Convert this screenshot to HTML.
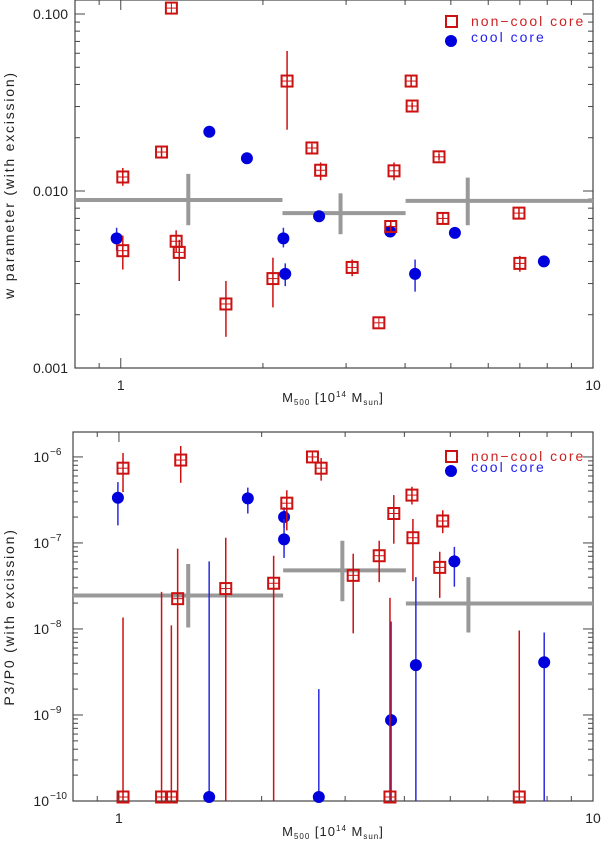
<!DOCTYPE html>
<html><head><meta charset="utf-8">
<style>
html,body{margin:0;padding:0;background:#fff;}
svg{display:block;font-family:"Liberation Sans",sans-serif;}
</style></head>
<body>
<svg id="chart" width="602" height="847" viewBox="0 0 602 847" xmlns="http://www.w3.org/2000/svg"></svg>
<script>
// ---------- TOP PANEL DATA (w parameter) ----------
const topNccX  = [1.01,1.01,1.22,1.28,1.31,1.33,1.67,2.10,2.25,2.54,2.65,3.09,3.52,3.73,3.79,4.12,4.14,4.72,4.81,6.97,7.00];
const topNccY  = [0.0120,0.0046,0.0166,0.108,0.0052,0.0045,0.0023,0.0032,0.0418,0.0175,0.0131,0.0037,0.0018,0.0063,0.0130,0.0418,0.0302,0.0156,0.0070,0.0075,0.0039];
const topNccLo = [0.0107,0.0036,0.0153,0.108,0.0045,0.0031,0.0015,0.0022,0.0222,0.0164,0.0115,0.0033,0.0018,0.0059,0.0115,0.0390,0.0290,0.0150,0.0065,0.0070,0.0035];
const topNccHi = [0.0135,0.0056,0.0180,0.108,0.0060,0.0053,0.0031,0.0042,0.0618,0.0184,0.0145,0.0041,0.0018,0.0067,0.0145,0.0450,0.0315,0.0162,0.0075,0.0080,0.0043];
const topCcX   = [0.98,1.54,1.85,2.21,2.23,2.63,3.72,4.20,5.10,7.87];
const topCcY   = [0.0054,0.0216,0.0153,0.0054,0.0034,0.0072,0.0059,0.0034,0.0058,0.0040];
const topCcLo  = [0.0046,0.0216,0.0153,0.0048,0.0029,0.0072,0.0059,0.0027,0.0058,0.0040];
const topCcHi  = [0.0062,0.0216,0.0153,0.0062,0.0039,0.0072,0.0059,0.0041,0.0058,0.0040];
const topBinEdges = [0.8,2.20,4.01,10];
const topBinX  = [1.39,2.92,5.43];
const topBinY  = [0.0089,0.0075,0.0088];
const topBinLo = [0.0064,0.0057,0.0064];
const topBinHi = [0.0125,0.0097,0.0119];
const topYTicks = [0.001,0.01,0.1];
const topYTickLabels = ["0.001","0.010","0.100"];

// ---------- BOTTOM PANEL DATA (P3/P0) ----------
const botNccX  = [1.02,1.35,1.33,1.68,2.12,2.26,1.02,1.23,1.29,2.56,2.67,4.15,3.80,4.17,4.82,3.54,3.12,4.75,6.99,3.73];
const botNccY  = [7.4e-7,9.2e-7,2.25e-8,2.95e-8,3.4e-8,2.9e-7,1.1e-10,1.1e-10,1.1e-10,1.0e-6,7.4e-7,3.6e-7,2.2e-7,1.15e-7,1.8e-7,7.1e-8,4.2e-8,5.2e-8,1.1e-10,1.1e-10];
const botNccLo = [3.9e-7,5.0e-7,1.0e-10,1.0e-10,1.0e-10,1.4e-7,1.0e-10,1.0e-10,1.0e-10,9.0e-7,5.3e-7,2.8e-7,9.8e-8,3.6e-8,1.3e-7,3.5e-8,8.9e-9,2.3e-8,1.0e-10,1.0e-10];
const botNccHi = [1.11e-6,1.34e-6,8.6e-8,1.15e-7,7.1e-8,4.1e-7,1.36e-8,2.7e-8,1.1e-8,1.1e-6,9.7e-7,4.5e-7,3.6e-7,1.9e-7,2.4e-7,1.06e-7,7.5e-8,7.9e-8,9.6e-9,2.3e-8];
const botCcX   = [0.995,1.87,2.23,2.23,1.55,5.10,4.23,3.75,7.89,2.64];
const botCcY   = [3.35e-7,3.3e-7,2.0e-7,1.1e-7,1.1e-10,6.1e-8,3.8e-9,8.7e-10,4.1e-9,1.1e-10];
const botCcLo  = [1.6e-7,2.2e-7,1.5e-7,6.7e-8,1.0e-10,3.1e-8,1.0e-10,1.0e-10,1.0e-10,1.0e-10];
const botCcHi  = [5.1e-7,4.4e-7,2.6e-7,1.9e-7,6.1e-8,9.0e-8,4.0e-8,1.22e-8,9.1e-9,2.0e-9];
const botBinEdges = [0.8,2.22,4.03,10];
const botBinX  = [1.40,2.96,5.46];
const botBinY  = [2.45e-8,4.8e-8,1.98e-8];
const botBinLo = [1.04e-8,2.1e-8,9.1e-9];
const botBinHi = [5.7e-8,1.06e-7,4.0e-8];
const botYExps = [-10,-9,-8,-7,-6];

const xTickVals = [1,10];
const xTickLabels = ["1","10"];

const NS="http://www.w3.org/2000/svg";
const svg=document.getElementById('chart');
function mk(tag,attrs,parent){const e=document.createElementNS(NS,tag);for(const k in attrs)e.setAttribute(k,attrs[k]);(parent||svg).appendChild(e);return e;}

function panel(cfg){
  const g=mk('g',{});
  
  
  const L=cfg.left,R=593,T=cfg.top,B=cfg.bottom;
  const lx0=Math.log10(0.8),lx1=1;
  const sx=v=>L+(Math.log10(v)-lx0)/(lx1-lx0)*(R-L);
  const ly0=Math.log10(cfg.ymin),ly1=Math.log10(cfg.ymax);
  const sy=v=>B-(Math.log10(v)-ly0)/(ly1-ly0)*(B-T);
  const ax='#444';
  const fr=mk('rect',{x:L,y:T,width:R-L,height:B-T,fill:'none',stroke:ax,'stroke-width':1.2},g);
  
  
  for(let d=0;d<=1;d++){for(let m=1;m<10;m++){const vv=(d===0?m*0.1:m);if(vv<0.8||vv>10)continue;const x=sx(vv);const len=(m===1)?10:5;
    mk('line',{x1:x,y1:B,x2:x,y2:B-len,stroke:ax},g);mk('line',{x1:x,y1:T,x2:x,y2:T+len,stroke:ax},g);}}
  mk('line',{x1:sx(10),y1:B,x2:sx(10),y2:B-10,stroke:ax},g);
  xTickVals.forEach((v,i)=>{const t=mk('text',{x:sx(v),y:B+22,'text-anchor':'middle','font-size':14,fill:'#222'},g);t.textContent=xTickLabels[i];
    
    });
  for(let e=Math.floor(ly0);e<=Math.ceil(ly1);e++){for(let m=1;m<10;m++){const v=m*Math.pow(10,e);if(v<cfg.ymin*0.999||v>cfg.ymax)continue;const y=sy(v);const len=m===1?10:5;
    mk('line',{x1:L,y1:y,x2:L+len,y2:y,stroke:ax},g);mk('line',{x1:R,y1:y,x2:R-len,y2:y,stroke:ax},g);}}
  cfg.ylabels(g,sy,L);
  const gray='#999';
  for(let i=0;i<cfg.binX.length;i++){
    const h=mk('line',{x1:sx(cfg.binEdges[i]),x2:sx(cfg.binEdges[i+1]),y1:sy(cfg.binY[i]),y2:sy(cfg.binY[i]),stroke:gray,'stroke-width':4},g);
    
    
    const v=mk('line',{x1:sx(cfg.binX[i]),x2:sx(cfg.binX[i]),y1:sy(cfg.binLo[i]),y2:sy(cfg.binHi[i]),stroke:gray,'stroke-width':4},g);
    
    
  }
  const cy=v=>Math.min(sy(v),B);
  for(let i=0;i<cfg.ccX.length;i++){
    const x=sx(cfg.ccX[i]),y=Math.min(sy(cfg.ccY[i]),B-4);
    mk('line',{x1:x,x2:x,y1:cy(cfg.ccLo[i]),y2:sy(cfg.ccHi[i]),stroke:'#2a2ae0','stroke-width':1.5},g);
    const c=mk('circle',{cx:x,cy:y,r:6,fill:'#0000dd'},g);
    
    
  }
  for(let i=0;i<cfg.nX.length;i++){
    const x=sx(cfg.nX[i]),y=Math.min(sy(cfg.nY[i]),B-4);
    mk('line',{x1:x,x2:x,y1:cy(cfg.nLo[i]),y2:sy(cfg.nHi[i]),stroke:'#cc1111','stroke-width':1.5},g);
    const r=mk('rect',{x:x-5.5,y:y-5.5,width:11,height:11,fill:'none',stroke:'#cc1111','stroke-width':2},g);
    
    
    mk('line',{x1:x-5,x2:x+5,y1:y,y2:y,stroke:'#cc1111','stroke-width':1},g);
    mk('line',{x1:x,x2:x,y1:y-5,y2:y+5,stroke:'#cc1111','stroke-width':1},g);
  }
  const lg=mk('g',{},g);
  
  
  mk('rect',{x:446,y:cfg.legY-6,width:11,height:11,fill:'none',stroke:'#cc1111','stroke-width':2},lg);
  const t1=mk('text',{x:471,y:cfg.legY+4,'font-size':14,fill:'#cc2222','letter-spacing':'2'},lg);t1.textContent='non\u2212cool core';
  mk('circle',{cx:451,cy:cfg.legY+cfg.legGap,r:6,fill:'#0000dd'},lg);
  const t2=mk('text',{x:471,y:cfg.legY+cfg.legGap+1,'font-size':14,fill:'#2222ee','letter-spacing':'2'},lg);t2.textContent='cool core';
  const xt=mk('text',{x:333,y:cfg.xTitleY,'text-anchor':'middle','font-size':13,fill:'#222','letter-spacing':'1'},g);
  xt.innerHTML='M<tspan font-size="8" dy="3">500</tspan><tspan dy="-3"> [10</tspan><tspan font-size="8" dy="-5">14</tspan><tspan dy="5"> M</tspan><tspan font-size="8" dy="3">sun</tspan><tspan dy="-3">]</tspan>';
  
  
  const yt=mk('text',{x:0,y:0,'text-anchor':'middle','font-size':14,fill:'#222',transform:`translate(14,${cfg.yTitleY}) rotate(-90)`,'letter-spacing':'1.8'},g);
  yt.textContent=cfg.yTitle;
  
  
}

panel({name:'w-parameter-panel',left:75,top:0,bottom:368,ymin:0.001,ymax:0.1*Math.pow(10,14/177),
  nX:topNccX,nY:topNccY,nLo:topNccLo,nHi:topNccHi,ccX:topCcX,ccY:topCcY,ccLo:topCcLo,ccHi:topCcHi,
  binEdges:topBinEdges,binX:topBinX,binY:topBinY,binLo:topBinLo,binHi:topBinHi,
  legY:22,legGap:19,xTitleY:402,yTitleY:185,yTitle:'w parameter (with excission)',
  ylabels:(g,sy,L)=>{topYTicks.forEach((v,i)=>{const t=mk('text',{x:L-7,y:sy(v)+5,'text-anchor':'end','font-size':14,fill:'#222'},g);t.textContent=topYTickLabels[i];
    
    });}
});
panel({name:'p3-p0-panel',left:73,top:432,bottom:801,ymin:1e-10,ymax:1e-6*Math.pow(10,25/86.25),
  nX:botNccX,nY:botNccY,nLo:botNccLo,nHi:botNccHi,ccX:botCcX,ccY:botCcY,ccLo:botCcLo,ccHi:botCcHi,
  binEdges:botBinEdges,binX:botBinX,binY:botBinY,binLo:botBinLo,binHi:botBinHi,
  legY:457,legGap:14,xTitleY:836,yTitleY:617,yTitle:'P3/P0 (with excission)',
  ylabels:(g,sy,L)=>{botYExps.forEach(e=>{const t=mk('text',{x:L-24,y:sy(Math.pow(10,e))+5,'text-anchor':'end','font-size':14,fill:'#222'},g);t.textContent='10';
    
    
    const s=mk('text',{x:L-23,y:sy(Math.pow(10,e))-2,'text-anchor':'start','font-size':10,fill:'#222'},g);s.textContent='\u2212'+Math.abs(e);});}
});
</script>
</body></html>
